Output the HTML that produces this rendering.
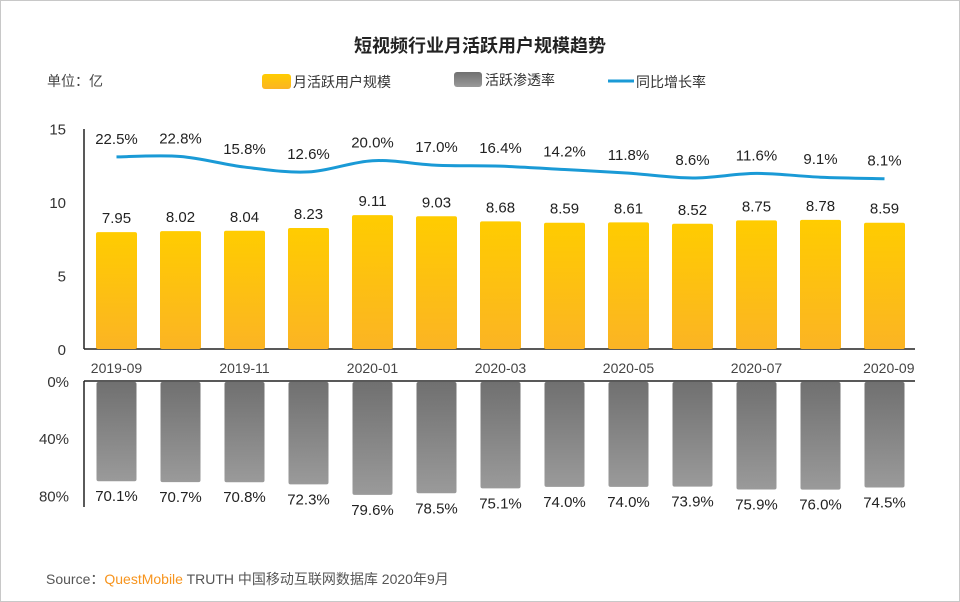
<!DOCTYPE html>
<html><head><meta charset="utf-8"><style>
body{margin:0;background:#fff}
#wrap{position:relative;width:958px;height:600px;border:1px solid #c8c8c8;overflow:hidden;font-family:"Liberation Sans","Noto Sans CJK SC",sans-serif}
</style></head><body>
<div id="wrap">
<svg id="chart" width="958" height="600">
<defs>
<linearGradient id="gy" x1="0" y1="0" x2="0" y2="1"><stop offset="0" stop-color="#ffcc00"/><stop offset="1" stop-color="#fbb424"/></linearGradient>
<linearGradient id="gg" x1="0" y1="0" x2="0" y2="1"><stop offset="0" stop-color="#707070"/><stop offset="1" stop-color="#9a9a9a"/></linearGradient>
</defs>
<text x="479" y="51" text-anchor="middle" font-size="18" font-weight="bold" fill="#222">短视频行业月活跃用户规模趋势</text>
<text x="46" y="85" font-size="14" fill="#444">单位：亿</text>
<g>
<rect x="261" y="73" width="29" height="15" rx="3" fill="url(#gy)"/>
<text x="292" y="86" font-size="14" fill="#333">月活跃用户规模</text>
<rect x="453" y="71" width="28" height="15" rx="3" fill="url(#gg)"/>
<text x="484" y="84" font-size="14" fill="#333">活跃渗透率</text>
<line x1="607" y1="80" x2="633" y2="80" stroke="#1a9ad6" stroke-width="3"/>
<text x="635" y="86" font-size="14" fill="#333">同比增长率</text>
</g>
<text x="45" y="583" font-size="14" fill="#555">Source：<tspan fill="#f7941d">QuestMobile</tspan> TRUTH 中国移动互联网数据库 2020年9月</text>
</svg>
</div>
<script>
const months=["2019-09","2019-10","2019-11","2019-12","2020-01","2020-02","2020-03","2020-04","2020-05","2020-06","2020-07","2020-08","2020-09"];
const mau=[7.95,8.02,8.04,8.23,9.11,9.03,8.68,8.59,8.61,8.52,8.75,8.78,8.59];
const growth=[22.5,22.8,15.8,12.6,20.0,17.0,16.4,14.2,11.8,8.6,11.6,9.1,8.1];
const penetration=[70.1,70.7,70.8,72.3,79.6,78.5,75.1,74.0,74.0,73.9,75.9,76.0,74.5];
const topTicks=["0","5","10","15"];
const bottomTicks=["0%","40%","80%"];
const xLabelIdx=[0,2,4,6,8,10,12];

const svg=document.getElementById('chart');
const NS='http://www.w3.org/2000/svg';
function mk(tag,attrs,parent){const e=document.createElementNS(NS,tag);for(const k in attrs)e.setAttribute(k,attrs[k]);(parent||svg).appendChild(e);return e;}
const xC=i=>115.5+i*64;
const yTop=v=>348-v*14.7;
const yLine=v=>190-v*1.515;
const yBot=v=>380+v*1.43;
const BW=41;

// top axes
let ax=mk('line',{x1:83,y1:128,x2:83,y2:348,stroke:'#222','stroke-width':1.5});

ax=mk('line',{x1:83,y1:348,x2:914,y2:348,stroke:'#222','stroke-width':1.5});

topTicks.forEach(t=>{const e=mk('text',{x:65,y:yTop(+t)+6,'text-anchor':'end','font-size':15,fill:'#333'});e.textContent=t;
});
// bottom axes
ax=mk('line',{x1:83,y1:380,x2:914,y2:380,stroke:'#222','stroke-width':1.5});

ax=mk('line',{x1:83,y1:380,x2:83,y2:506,stroke:'#222','stroke-width':1.5});

bottomTicks.forEach(t=>{const e=mk('text',{x:68,y:yBot(parseFloat(t))+6,'text-anchor':'end','font-size':15,fill:'#333'});e.textContent=t;
});
// x labels
xLabelIdx.forEach(i=>{const last=i===months.length-1;const e=mk('text',{x:last?xC(i)+30:xC(i),y:372,'text-anchor':last?'end':'middle','font-size':14,fill:'#444'});e.textContent=months[i];
});
// bars
mau.forEach((v,i)=>{
 const r=mk('rect',{x:xC(i)-BW/2,y:yTop(v),width:BW,height:348-yTop(v),rx:2,fill:'url(#gy)'});
 
 const t=mk('text',{x:xC(i),y:yTop(v)-9,'text-anchor':'middle','font-size':15,fill:'#222'});t.textContent=v.toFixed(2);
 
});
penetration.forEach((v,i)=>{
 const r=mk('rect',{x:xC(i)-BW/2+0.5,y:381,width:BW-1,height:yBot(v)-381,rx:2,fill:'url(#gg)'});
 
 const t=mk('text',{x:xC(i),y:yBot(v)+20,'text-anchor':'middle','font-size':15,fill:'#222'});t.textContent=v.toFixed(1)+'%';
 
});
// growth line (smooth)
const pts=growth.map((v,i)=>[xC(i),yLine(v)]);
let d='M'+pts[0][0]+','+pts[0][1];
for(let i=0;i<pts.length-1;i++){
 const p0=pts[Math.max(0,i-1)],p1=pts[i],p2=pts[i+1],p3=pts[Math.min(pts.length-1,i+2)];
 const c1=[p1[0]+(p2[0]-p0[0])/6,p1[1]+(p2[1]-p0[1])/6],c2=[p2[0]-(p3[0]-p1[0])/6,p2[1]-(p3[1]-p1[1])/6];
 d+=` C${c1[0]},${c1[1]} ${c2[0]},${c2[1]} ${p2[0]},${p2[1]}`;
}
const ln=mk('path',{d:d,fill:'none',stroke:'#1a9ad6','stroke-width':3});

growth.forEach((v,i)=>{const t=mk('text',{x:xC(i),y:yLine(v)-13,'text-anchor':'middle','font-size':15,fill:'#222'});t.textContent=v.toFixed(1)+'%';
});
</script>
</body></html>
